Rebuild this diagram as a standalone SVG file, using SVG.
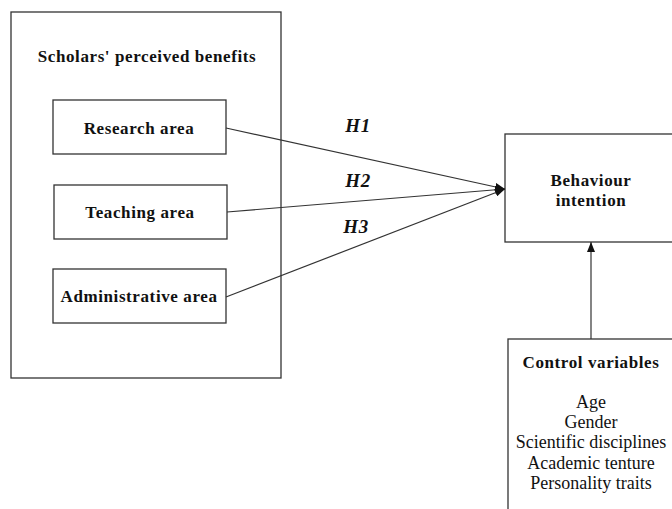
<svg xmlns="http://www.w3.org/2000/svg" width="672" height="509" viewBox="0 0 672 509">
<style>
.box{fill:#fff;stroke:#333;stroke-width:1.3}
.b{font-family:"Liberation Serif",serif;font-weight:bold;font-size:17px;letter-spacing:0.6px;fill:#111;text-anchor:middle}
.r{font-family:"Liberation Serif",serif;font-size:18px;fill:#111;text-anchor:middle}
.h{font-family:"Liberation Serif",serif;font-weight:bold;font-style:italic;font-size:19px;letter-spacing:0.5px;fill:#111;text-anchor:middle}
.c{stroke:#333;stroke-width:1.2;fill:none}
</style>
<defs>
<marker id="ah" markerWidth="10" markerHeight="8" refX="10" refY="4" orient="auto" markerUnits="userSpaceOnUse">
<path d="M0,0 L10,4 L0,8 Z" fill="#111"/>
</marker>
</defs>
<rect width="672" height="509" fill="#fff"/>
<g id="perceived-benefits">
<rect class="box" x="11" y="12" width="270" height="366"/>
<text class="b" x="147" y="62">Scholars' perceived benefits</text>
</g>
<g id="research">
<rect class="box" x="53" y="100" width="173" height="54"/>
<text class="b" x="139" y="134">Research area</text>
</g>
<g id="teaching">
<rect class="box" x="54" y="185" width="173" height="54"/>
<text class="b" x="140" y="218">Teaching area</text>
</g>
<g id="administrative">
<rect class="box" x="53" y="269" width="173" height="54"/>
<text class="b" x="139" y="302">Administrative area</text>
</g>
<g id="behaviour">
<rect class="box" x="505" y="134" width="175" height="108"/>
<text class="b" x="591" y="186">Behaviour</text>
<text class="b" x="591" y="206">intention</text>
</g>
<g id="control">
<rect class="box" x="508" y="339" width="175" height="180"/>
<text class="b" x="591" y="368">Control variables</text>
<text class="r" x="591" y="408">Age</text>
<text class="r" x="591" y="428">Gender</text>
<text class="r" x="591" y="448">Scientific disciplines</text>
<text class="r" x="591" y="469">Academic tenture</text>
<text class="r" x="591" y="489">Personality traits</text>
</g>
<g id="connectors">
<line class="c" x1="226" y1="128" x2="505" y2="189" marker-end="url(#ah)"/>
<line class="c" x1="227" y1="212" x2="505" y2="189" marker-end="url(#ah)"/>
<line class="c" x1="226" y1="297" x2="505" y2="189" marker-end="url(#ah)"/>
<line class="c" x1="591" y1="339" x2="591" y2="242" marker-end="url(#ah)"/>
<text class="h" x="358" y="132">H1</text>
<text class="h" x="358" y="187">H2</text>
<text class="h" x="356" y="233">H3</text>
</g>
</svg>
